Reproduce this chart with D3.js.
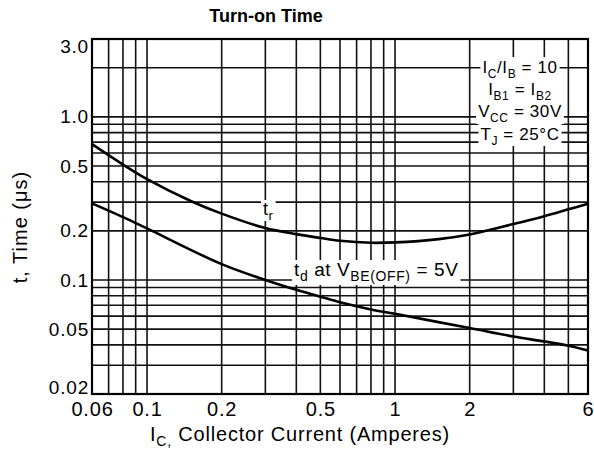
<!DOCTYPE html>
<html>
<head>
<meta charset="utf-8">
<script src="https://cdn.jsdelivr.net/npm/d3@7"></script>
<style>
body { margin: 0; background: #fff; }
svg { display: block; font-family: "Liberation Sans", Arial, sans-serif; }
</style>
</head>
<body>
<svg width="594" height="452"></svg>
<script>
// tick labels and grid
var xTicks = [0.06, 0.1, 0.2, 0.5, 1, 2, 6];
var yTicks = [0.02, 0.05, 0.1, 0.2, 0.5, 1.0, 3.0];
var yTickText = ["0.02", "0.05", "0.1", "0.2", "0.5", "1.0", "3.0"];
var gridX = [0.07, 0.08, 0.09, 0.1, 0.2, 0.3, 0.4, 0.5, 0.6, 0.7, 0.8, 0.9, 1, 2, 3, 4, 5];
var gridY = [0.03, 0.04, 0.05, 0.06, 0.07, 0.08, 0.09, 0.1, 0.2, 0.3, 0.4, 0.5, 0.6, 0.7, 0.8, 0.9, 1, 2];

// curves
var trIc = [0.06, 0.08, 0.1, 0.15, 0.2, 0.3, 0.4, 0.5, 0.6, 0.8, 1, 1.5, 2, 3, 4, 5, 6];
var trT = [0.68, 0.51, 0.415, 0.305, 0.255, 0.208, 0.191, 0.181, 0.174, 0.169, 0.17, 0.178, 0.19, 0.22, 0.246, 0.271, 0.293];
var tdIc = [0.06, 0.08, 0.1, 0.2, 0.3, 0.4, 0.5, 0.6, 0.8, 1, 2, 3, 4, 5, 6];
var tdT = [0.295, 0.243, 0.207, 0.125, 0.1, 0.087, 0.079, 0.073, 0.066, 0.062, 0.0507, 0.045, 0.042, 0.0395, 0.037];

var svg = d3.select("svg");
var plotL = 92, plotR = 588, plotT = 39, plotB = 394;

var x = d3.scaleLog().domain([0.06, 6]).range([plotL, plotR]);
var y = d3.scaleLog().domain([0.02, 3]).range([plotB, plotT]);

// grid
var grid = svg.append("g").attr("stroke", "#111").attr("stroke-width", 1.6);
grid.selectAll("line.gx")
    .data(gridX)
    .enter().append("line")
    .attr("class", "gx")
    .attr("x1", function (d) { return x(d); })
    .attr("x2", function (d) { return x(d); })
    .attr("y1", plotT)
    .attr("y2", plotB);
grid.selectAll("line.gy")
    .data(gridY)
    .enter().append("line")
    .attr("class", "gy")
    .attr("x1", plotL)
    .attr("x2", plotR)
    .attr("y1", function (d) { return y(d); })
    .attr("y2", function (d) { return y(d); });

// curves
var line = d3.line()
    .x(function (d) { return x(d[0]); })
    .y(function (d) { return y(d[1]); })
    .curve(d3.curveCatmullRom.alpha(0.5));

svg.append("path")
    .datum(d3.zip(trIc, trT))
    .attr("fill", "none")
    .attr("stroke", "#000")
    .attr("stroke-width", 2.6)
    .attr("d", line);
svg.append("path")
    .datum(d3.zip(tdIc, tdT))
    .attr("fill", "none")
    .attr("stroke", "#000")
    .attr("stroke-width", 2.6)
    .attr("d", line);

// frame
svg.append("rect")
    .attr("x", plotL).attr("y", plotT)
    .attr("width", plotR - plotL).attr("height", plotB - plotT)
    .attr("fill", "none").attr("stroke", "#000").attr("stroke-width", 2.2);

// axes
var xAxis = svg.append("g")
    .attr("transform", "translate(0," + plotB + ")")
    .call(d3.axisBottom(x).tickValues(xTicks).tickSize(0).tickPadding(8)
        .tickFormat(function (d) { return String(d); }));
xAxis.select(".domain").remove();
xAxis.selectAll("text")
    .attr("font-size", 20).attr("fill", "#000")
    .attr("font-family", "Liberation Sans, Arial, sans-serif")
    .attr("letter-spacing", 0.8);

var yAxis = svg.append("g")
    .attr("transform", "translate(" + plotL + ",0)")
    .call(d3.axisLeft(y).tickValues(yTicks).tickSize(0).tickPadding(3)
        .tickFormat(function (d, i) { return yTickText[i]; }));
yAxis.select(".domain").remove();
yAxis.selectAll("text")
    .attr("font-size", 19).attr("fill", "#000")
    .attr("font-family", "Liberation Sans, Arial, sans-serif")
    .attr("letter-spacing", 0.8)
    .attr("dy", function (d) {
        // end labels sit inside the frame, as in the original sheet
        if (d === 0.02) return "-0.02em";
        if (d === 3.0) return "0.72em";
        return "0.32em";
    });

// text with subscripts: parts are [text, isSub]
function richText(g, parts, size, subSize) {
    var t = g.append("text").attr("font-size", size).attr("fill", "#000");
    var down = false;
    parts.forEach(function (p) {
        var s = t.append("tspan").text(p[0]);
        if (p[1] && !down) { s.attr("dy", 5).attr("font-size", subSize); down = true; }
        else if (p[1]) { s.attr("font-size", subSize); }
        else if (down) { s.attr("dy", -5); down = false; }
    });
    return t;
}

// title
svg.append("text")
    .attr("x", 266).attr("y", 22)
    .attr("text-anchor", "middle")
    .attr("font-size", 18).attr("font-weight", "bold")
    .text("Turn-on Time");

// axis titles
var xt = richText(svg.append("g"), [["I"], ["C,", 1], [" Collector Current (Amperes)"]], 20, 14);
xt.attr("x", 150).attr("y", 441).attr("letter-spacing", 0.8);

svg.append("text")
    .attr("transform", "translate(27,227) rotate(-90)")
    .attr("text-anchor", "middle")
    .attr("font-size", 20)
    .attr("letter-spacing", 1)
    .text("t, Time (\u03bcs)");

// annotations with white backing
function label(parts, px, py, size, subSize, anchor, padTop, padBot) {
    var g = svg.append("g");
    var t = richText(g, parts, size, subSize)
        .attr("x", px).attr("y", py)
        .attr("text-anchor", anchor || "start")
        .attr("letter-spacing", 0.6);
    var b = t.node().getBBox();
    g.insert("rect", "text")
        .attr("x", b.x - 2).attr("y", py - padTop)
        .attr("width", b.width + 4).attr("height", padTop + padBot)
        .attr("fill", "#fff");
}

label([["t"], ["r", 1]], 263, 215, 18, 13, "start", 15, 6);
label([["t"], ["d", 1], [" at V"], ["BE(OFF)", 1], [" = 5V"]], 294, 276, 19, 14, "start", 16, 9);

var boxX = 520;
label([["I"], ["C", 1], ["/I"], ["B", 1], [" = 10"]], boxX, 73, 17, 12, "middle", 16, 6);
label([["I"], ["B1", 1], [" = I"], ["B2", 1]], boxX, 95, 17, 12, "middle", 16, 6);
label([["V"], ["CC", 1], [" = 30V"]], boxX, 117, 17, 12, "middle", 16, 7);
label([["T"], ["J", 1], [" = 25\u00b0C"]], boxX, 140, 17, 12, "middle", 16, 6);
</script>
</body>
</html>
